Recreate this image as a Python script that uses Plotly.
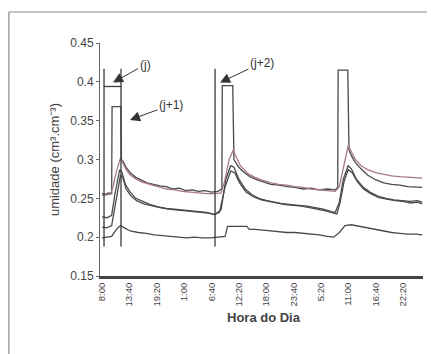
import plotly.graph_objects as go

# ---- data (time in minutes after 8:00 of day 1, umidade in cm3/cm3) ----
tick_t = [0, 340, 680, 1020, 1360, 1700, 2040, 2380, 2720, 3060, 3400, 3740]
tick_lbl = ["8:00", "13:40", "19:20", "1:00", "6:40", "12:20", "18:00", "23:40",
            "5:20", "11:00", "16:40", "22:20"]

t1 = [0, 40, 80, 120, 125, 235, 240, 260, 300, 350, 420, 480, 560, 640, 720, 800, 880,
      960, 1040, 1120, 1200, 1280, 1360, 1440, 1490, 1495, 1625, 1640, 1660, 1700, 1760,
      1840, 1920, 2000, 2100, 2200, 2300, 2400, 2500, 2600, 2700, 2800, 2900, 2930, 2935,
      3055, 3070, 3100, 3150, 3220, 3300, 3400, 3500, 3600, 3700, 3800, 3900, 3980]
u1 = [0.256, 0.255, 0.257, 0.256, 0.368, 0.368, 0.300, 0.298, 0.290, 0.283, 0.277, 0.274,
      0.270, 0.268, 0.266, 0.265, 0.262, 0.263, 0.260, 0.261, 0.259, 0.260, 0.258, 0.259,
      0.262, 0.395, 0.395, 0.300, 0.296, 0.290, 0.284, 0.278, 0.274, 0.271, 0.268, 0.267,
      0.265, 0.264, 0.262, 0.263, 0.261, 0.262, 0.261, 0.264, 0.415, 0.415, 0.312, 0.305,
      0.296, 0.288, 0.280, 0.274, 0.270, 0.268, 0.267, 0.265, 0.264, 0.264]

t2 = [0, 100, 130, 180, 230, 260, 300, 350, 420, 500, 600, 700, 800, 900, 1000, 1100,
      1200, 1300, 1400, 1480, 1520, 1580, 1630, 1660, 1720, 1800, 1900, 2000, 2100, 2200,
      2300, 2400, 2500, 2600, 2700, 2800, 2900, 2950, 3000, 3060, 3090, 3150, 3220, 3300,
      3400, 3500, 3600, 3700, 3800, 3900, 3980]
u2 = [0.254, 0.255, 0.262, 0.285, 0.302, 0.296, 0.287, 0.280, 0.275, 0.271, 0.268, 0.265,
      0.262, 0.261, 0.259, 0.258, 0.257, 0.256, 0.256, 0.257, 0.270, 0.300, 0.312, 0.305,
      0.292, 0.283, 0.277, 0.273, 0.270, 0.268, 0.267, 0.265, 0.264, 0.262, 0.261, 0.260,
      0.259, 0.265, 0.290, 0.318, 0.312, 0.300, 0.292, 0.287, 0.283, 0.281, 0.279, 0.278,
      0.277, 0.276, 0.276]

t3 = [0, 60, 120, 160, 220, 250, 290, 350, 420, 500, 600, 700, 800, 900, 1000, 1100, 1200,
      1300, 1370, 1400, 1480, 1540, 1600, 1640, 1700, 1780, 1860, 1950, 2050, 2150, 2250,
      2350, 2450, 2550, 2650, 2750, 2850, 2900, 2950, 3000, 3060, 3100, 3160, 3240, 3330,
      3430, 3530, 3630, 3730, 3830, 3920, 3980]
u3 = [0.226, 0.225, 0.228, 0.255, 0.287, 0.283, 0.268, 0.258, 0.250, 0.246, 0.242, 0.239,
      0.237, 0.236, 0.235, 0.234, 0.233, 0.232, 0.230, 0.229, 0.235, 0.275, 0.292, 0.290,
      0.275, 0.262, 0.255, 0.250, 0.247, 0.245, 0.243, 0.242, 0.241, 0.240, 0.238, 0.236,
      0.233, 0.232, 0.245, 0.275, 0.292, 0.288, 0.275, 0.265, 0.258, 0.253, 0.250, 0.248,
      0.247, 0.246, 0.247, 0.245]

t4 = [0, 60, 120, 170, 230, 260, 300, 360, 430, 520, 620, 720, 820, 920, 1020, 1120, 1220,
      1320, 1400, 1460, 1530, 1600, 1650, 1710, 1790, 1880, 1980, 2080, 2180, 2280, 2380,
      2480, 2580, 2680, 2780, 2880, 2920, 2960, 3010, 3060, 3110, 3170, 3250, 3340, 3440,
      3540, 3640, 3740, 3840, 3920, 3980]
u4 = [0.213, 0.212, 0.215, 0.245, 0.280, 0.276, 0.262, 0.253, 0.247, 0.243, 0.240, 0.238,
      0.236, 0.235, 0.234, 0.233, 0.232, 0.231, 0.229, 0.232, 0.265, 0.285, 0.283, 0.270,
      0.258, 0.252, 0.248, 0.246, 0.244, 0.242, 0.241, 0.240, 0.238, 0.236, 0.234, 0.231,
      0.230, 0.245, 0.272, 0.287, 0.283, 0.272, 0.262, 0.256, 0.251, 0.249, 0.247, 0.246,
      0.244, 0.245, 0.243]

t5 = [0, 60, 120, 180, 230, 280, 350, 450, 550, 650, 750, 850, 950, 1050, 1150, 1250, 1350,
      1420, 1530, 1560, 1800, 1830, 1900, 2000, 2100, 2200, 2300, 2400, 2500, 2600, 2700,
      2800, 2880, 2950, 3020, 3100, 3200, 3300, 3400, 3500, 3600, 3700, 3800, 3900, 3980]
u5 = [0.199, 0.200, 0.201, 0.210, 0.215, 0.212, 0.208, 0.206, 0.205, 0.203, 0.202, 0.201,
      0.200, 0.199, 0.200, 0.199, 0.199, 0.200, 0.201, 0.214, 0.214, 0.210, 0.210, 0.209,
      0.208, 0.207, 0.206, 0.206, 0.205, 0.204, 0.203, 0.201, 0.200, 0.206, 0.215, 0.216,
      0.214, 0.212, 0.210, 0.208, 0.206, 0.205, 0.204, 0.204, 0.203]

# irrigation marker lines (times) and their vertical extent
marca_t = [25, 236, 1405]
marca_u = [0.188, 0.417]
faixa_j_u = 0.394

fig = go.Figure()
line_col = "#4a4a4a"
for tt, uu, col in [(t5, u5, line_col), (t4, u4, line_col), (t3, u3, line_col),
                    (t1, u1, line_col), (t2, u2, "#a87a80")]:
    fig.add_trace(go.Scatter(x=tt, y=uu, mode="lines",
                             line=dict(color=col, width=1.3), showlegend=False,
                             hoverinfo="skip"))

mx, my = [], []
for t in marca_t:
    mx += [t, t, None]
    my += [marca_u[0], marca_u[1], None]
mx += [marca_t[0], marca_t[1]]
my += [faixa_j_u, faixa_j_u]
fig.add_trace(go.Scatter(x=mx, y=my, mode="lines", line=dict(color="#3a3a3a", width=1.3),
                         showlegend=False, hoverinfo="skip"))

font = "Liberation Sans, Arial, sans-serif"
ann = [
    dict(x=137, y=0.399, ax=32, ay=-18, text="(j)"),
    dict(x=348, y=0.351, ax=41, ay=-15, text="(j+1)"),
    dict(x=1467, y=0.399, ax=42, ay=-20, text="(j+2)"),
]
annotations = []
for a in ann:
    annotations.append(dict(x=a["x"], y=a["y"], xref="x", yref="y", ax=a["ax"], ay=a["ay"],
                            text=a["text"], showarrow=True, arrowhead=2, arrowsize=2,
                            arrowwidth=1, arrowcolor="#333",
                            font=dict(family=font, size=12, color="#333")))
annotations.append(dict(x=-0.170, y=0.5, xref="paper", yref="paper", showarrow=False,
                        text="umidade (cm³.cm⁻³)", textangle=-90,
                        font=dict(family=font, size=13, color="#444")))
annotations.append(dict(x=0.508, y=-0.221, xref="paper", yref="paper", showarrow=False,
                        text="<b>Hora do Dia</b>",
                        font=dict(family=font, size=13, color="#444")))

# page body has an 8px margin: figure is sized so the plot area lands at x 100-423, y 43-276
fig.update_layout(
    width=427, height=346,
    margin=dict(l=92, r=12, t=35, b=78),
    paper_bgcolor="white", plot_bgcolor="white",
    annotations=annotations,
    shapes=[
        dict(type="line", xref="paper", yref="paper", x0=-0.282, x1=1.03, y0=1.133, y1=1.133,
             line=dict(color="#888", width=1.2)),
        dict(type="line", xref="paper", yref="paper", x0=-0.282, x1=-0.282, y0=1.133, y1=-0.35,
             line=dict(color="#888", width=1.2)),
    ],
    xaxis=dict(range=[-25, 3990], tickvals=tick_t, ticktext=tick_lbl, tickangle=-90,
               showgrid=False, zeroline=False, showline=True, linecolor="#444", linewidth=3,
               ticks="", tickfont=dict(family=font, size=9.5, color="#444")),
    yaxis=dict(range=[0.15, 0.45], tickvals=[0.15, 0.2, 0.25, 0.3, 0.35, 0.4, 0.45],
               ticktext=["0.15", "0.2", "0.25", "0.3", "0.35", "0.4", "0.45"],
               showgrid=False, zeroline=False, showline=True, linecolor="#666", linewidth=1,
               ticks="outside", ticklen=3, tickcolor="#666",
               tickfont=dict(family=font, size=12, color="#444")),
)
fig.write_html("out.html")
